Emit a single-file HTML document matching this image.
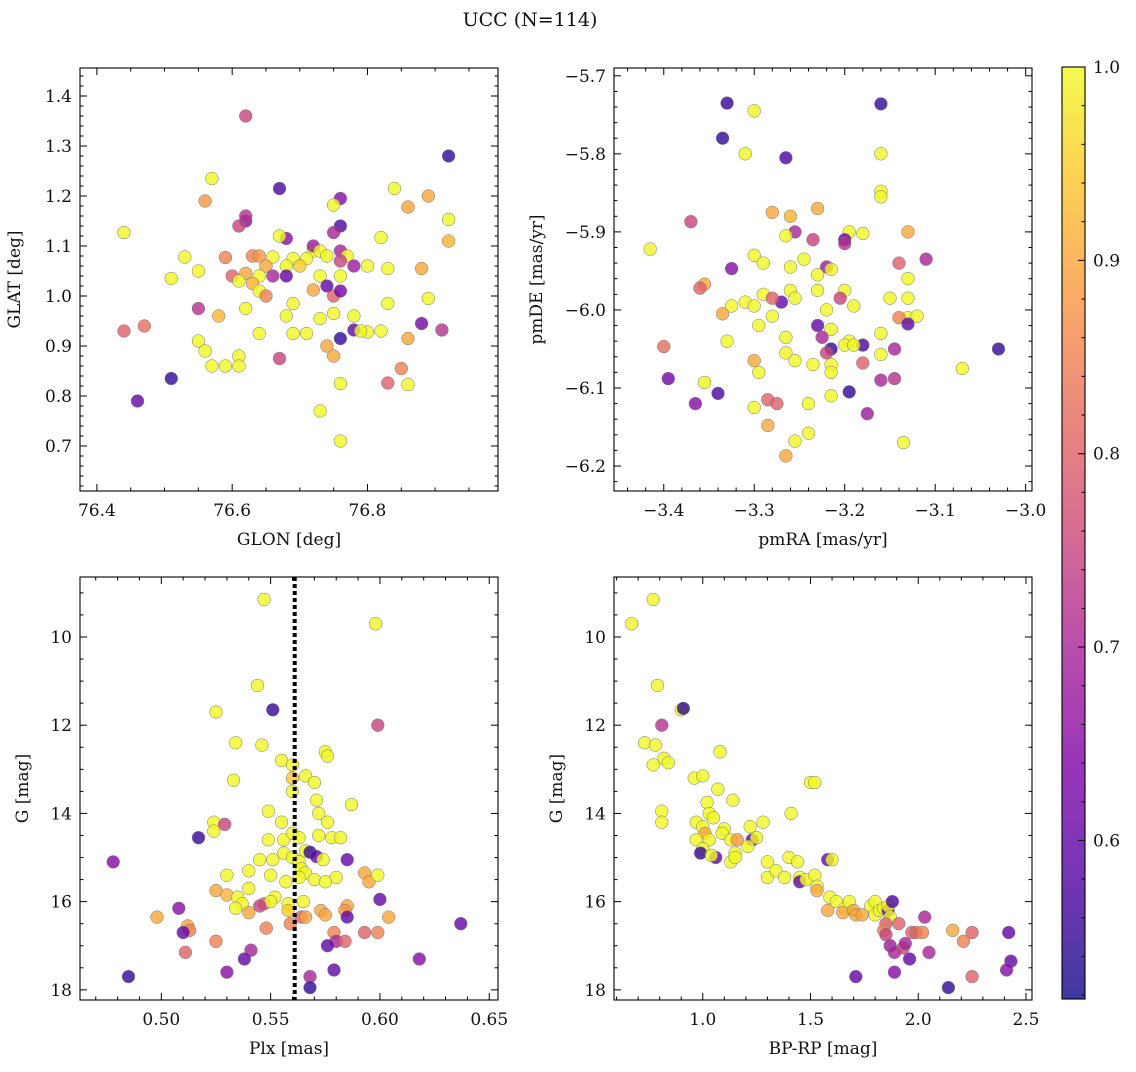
<!DOCTYPE html>
<html><head><meta charset="utf-8">
<style>
html,body{margin:0;padding:0;background:#fff;}
svg text{font-family:"DejaVu Serif","Liberation Serif",serif;fill:#111;}
</style></head>
<body>
<svg id="fig" width="1136" height="1067" viewBox="0 0 1136 1067" xmlns="http://www.w3.org/2000/svg">
<text x="530" y="26" font-size="19" text-anchor="middle">UCC (N=114)</text>
</svg>
<script>
// ---- data ----
const p1GLON=[76.62,76.92,76.67,76.57,76.44,76.56,76.84,76.89,76.86,76.92,76.92,76.76,76.75,76.62,76.62,76.61,76.68,76.67,76.76,76.75,76.82,76.59,76.53,76.63,76.64,76.66,76.72,76.72,76.73,76.74,76.76,76.77,76.71,76.69,76.68,76.70,76.65,76.62,76.64,76.66,76.68,76.60,76.61,76.55,76.51,76.63,76.64,76.65,76.73,76.76,76.76,76.78,76.80,76.83,76.88,76.72,76.75,76.76,76.74,76.69,76.68,76.73,76.75,76.78,76.83,76.89,76.55,76.58,76.62,76.64,76.69,76.71,76.76,76.78,76.80,76.79,76.82,76.86,76.88,76.91,76.44,76.47,76.55,76.56,76.57,76.59,76.61,76.61,76.67,76.74,76.75,76.76,76.83,76.85,76.86,76.51,76.46,76.73,76.76];
const p1GLAT=[1.36,1.28,1.215,1.235,1.127,1.19,1.215,1.20,1.178,1.153,1.11,1.195,1.182,1.15,1.16,1.14,1.115,1.12,1.14,1.127,1.117,1.077,1.078,1.08,1.08,1.078,1.09,1.1,1.09,1.08,1.09,1.08,1.075,1.075,1.06,1.06,1.06,1.045,1.04,1.04,1.04,1.04,1.03,1.05,1.035,1.025,1.01,1.00,1.04,1.04,1.07,1.06,1.06,1.055,1.055,1.012,1.00,1.01,1.02,0.985,0.96,0.955,0.965,0.96,0.985,0.995,0.975,0.96,0.975,0.925,0.925,0.925,0.915,0.932,0.928,0.93,0.93,0.915,0.945,0.932,0.93,0.94,0.91,0.89,0.86,0.86,0.88,0.86,0.875,0.90,0.88,0.825,0.826,0.855,0.823,0.835,0.79,0.77,0.71];
const p1C=[0.75,0.55,0.57,1,1,0.88,1,0.9,0.9,1,0.92,0.65,1,0.65,0.72,0.75,0.65,1,0.57,0.7,1,0.85,1,0.85,0.88,1,1,0.68,1,1,0.7,1,1,1,1,0.95,0.9,0.9,1,0.7,0.6,0.8,1,1,1,0.92,1,0.85,1,1,0.75,0.68,1,1,0.9,0.9,0.8,0.62,0.6,1,1,1,1,1,1,1,0.72,0.92,1,1,1,1,0.55,0.6,1,1,1,0.9,0.62,0.72,0.8,0.82,1,1,1,1,1,1,0.75,0.9,0.9,1,0.8,0.85,1,0.55,0.6,1,1];

const p2RA=[-3.33,-3.16,-3.30,-3.335,-3.31,-3.265,-3.16,-3.16,-3.16,-3.37,-3.28,-3.23,-3.26,-3.13,-3.415,-3.255,-3.265,-3.235,-3.195,-3.18,-3.20,-3.20,-3.30,-3.29,-3.11,-3.325,-3.26,-3.245,-3.22,-3.215,-3.23,-3.14,-3.13,-3.355,-3.36,-3.29,-3.26,-3.27,-3.255,-3.23,-3.20,-3.205,-3.19,-3.31,-3.30,-3.28,-3.325,-3.335,-3.15,-3.13,-3.13,-3.14,-3.12,-3.28,-3.22,-3.295,-3.23,-3.215,-3.13,-3.16,-3.33,-3.265,-3.225,-3.195,-3.18,-3.20,-3.215,-3.22,-3.19,-3.40,-3.30,-3.265,-3.255,-3.235,-3.215,-3.18,-3.145,-3.16,-3.03,-3.07,-3.295,-3.215,-3.395,-3.145,-3.16,-3.355,-3.34,-3.195,-3.215,-3.365,-3.24,-3.30,-3.285,-3.275,-3.175,-3.285,-3.24,-3.255,-3.135,-3.265];
const p2DE=[-5.735,-5.736,-5.745,-5.78,-5.80,-5.805,-5.80,-5.848,-5.855,-5.887,-5.875,-5.87,-5.88,-5.90,-5.922,-5.90,-5.905,-5.91,-5.90,-5.902,-5.91,-5.915,-5.93,-5.94,-5.935,-5.947,-5.945,-5.935,-5.945,-5.948,-5.955,-5.94,-5.96,-5.967,-5.972,-5.98,-5.975,-5.99,-5.985,-5.975,-5.975,-5.985,-5.995,-5.99,-5.995,-5.985,-5.995,-6.005,-5.985,-5.985,-6.01,-6.01,-6.008,-6.008,-6.00,-6.02,-6.02,-6.025,-6.018,-6.03,-6.04,-6.035,-6.035,-6.04,-6.045,-6.045,-6.05,-6.055,-6.045,-6.047,-6.065,-6.055,-6.065,-6.07,-6.07,-6.068,-6.05,-6.057,-6.05,-6.075,-6.08,-6.08,-6.088,-6.088,-6.09,-6.093,-6.107,-6.105,-6.11,-6.12,-6.12,-6.125,-6.115,-6.12,-6.133,-6.148,-6.158,-6.168,-6.17,-6.187];
const p2C=[0.55,0.55,1,0.55,1,0.57,1,1,1,0.75,0.9,0.9,0.92,0.9,1,0.7,1,0.75,1,1,0.6,0.72,1,1,0.7,0.65,1,1,0.68,1,1,0.8,1,0.9,0.8,1,1,0.6,1,1,1,0.75,1,1,1,0.8,1,0.9,1,1,1,0.85,1,1,1,1,0.6,1,0.6,1,1,1,0.7,1,0.57,1,0.55,0.75,1,0.82,0.9,1,1,1,1,0.8,0.7,1,0.55,1,1,1,0.62,0.72,0.7,1,0.57,0.55,1,0.65,1,1,0.8,0.8,0.68,0.9,1,1,1,0.9];

const p3PLX=[0.547,0.598,0.544,0.525,0.551,0.599,0.534,0.546,0.575,0.576,0.555,0.560,0.566,0.560,0.570,0.533,0.560,0.587,0.571,0.549,0.572,0.524,0.529,0.555,0.576,0.517,0.524,0.549,0.556,0.560,0.563,0.572,0.578,0.582,0.566,0.568,0.571,0.556,0.560,0.563,0.545,0.551,0.574,0.585,0.564,0.540,0.530,0.550,0.566,0.563,0.557,0.570,0.580,0.575,0.593,0.595,0.599,0.600,0.540,0.525,0.530,0.535,0.537,0.534,0.552,0.547,0.550,0.558,0.565,0.545,0.540,0.558,0.573,0.575,0.585,0.584,0.564,0.566,0.498,0.508,0.478,0.512,0.513,0.510,0.548,0.559,0.585,0.604,0.593,0.599,0.579,0.580,0.576,0.584,0.525,0.511,0.541,0.538,0.530,0.579,0.568,0.618,0.637,0.485,0.568];
const p3G=[9.15,9.7,11.1,11.7,11.65,12.0,12.4,12.45,12.6,12.7,12.8,12.9,13.15,13.2,13.3,13.25,13.5,13.8,13.7,13.95,14.0,14.2,14.25,14.2,14.2,14.55,14.4,14.6,14.6,14.45,14.55,14.5,14.55,14.55,14.85,14.88,14.98,14.9,15.0,15.1,15.05,15.05,15.05,15.05,15.25,15.3,15.4,15.4,15.35,15.45,15.55,15.5,15.45,15.55,15.35,15.55,15.4,15.95,15.7,15.75,15.85,15.9,16.05,16.15,15.9,16.05,16.0,16.05,16.0,16.1,16.25,16.2,16.2,16.3,16.1,16.2,16.35,16.35,16.35,16.15,15.1,16.55,16.65,16.7,16.6,16.5,16.35,16.35,16.7,16.7,16.7,16.9,17.0,16.9,16.9,17.15,17.1,17.3,17.6,17.55,17.7,17.3,16.5,17.7,17.95];
const p3C=[1,1,1,1,0.55,0.75,1,1,1,1,1,1,1,0.95,1,1,1,1,1,1,1,1,0.75,1,1,0.55,1,1,1,1,1,1,1,1,1,0.55,0.6,1,1,1,1,1,1,0.6,1,1,1,1,1,1,1,1,1,1,0.9,0.9,1,0.6,1,0.9,0.92,1,1,1,1,0.8,1,1,1,0.75,0.9,0.95,0.9,0.9,0.9,0.88,0.8,0.9,0.9,0.65,0.65,0.9,0.85,0.6,0.85,0.85,0.6,0.9,0.8,0.85,0.85,0.7,0.6,0.8,0.85,0.8,0.7,0.6,0.65,0.6,0.7,0.65,0.6,0.55,0.55];
const p3PlxMedian=0.561;

const p4BPRP=[0.67,0.77,0.79,0.90,0.91,0.81,0.73,0.78,0.82,0.84,0.77,1.08,0.96,1.00,0.81,0.81,1.02,1.07,1.14,1.03,0.97,1.00,1.05,1.10,1.01,0.97,1.03,1.09,1.13,1.16,1.23,1.25,1.28,1.41,1.50,1.52,1.00,0.99,1.06,1.04,1.15,1.13,1.15,1.22,1.21,1.30,1.30,1.34,1.38,1.40,1.44,1.45,1.45,1.48,1.52,1.53,1.53,1.58,1.60,1.59,1.58,1.62,1.66,1.65,1.68,1.70,1.71,1.74,1.78,1.80,1.80,1.82,1.84,1.86,1.86,1.88,1.87,1.85,1.84,1.85,1.87,1.89,1.91,1.93,1.94,1.96,1.97,1.99,2.03,2.05,2.02,2.16,2.21,2.25,2.25,2.42,2.43,2.41,2.14,1.89,1.71];
const p4G=[9.7,9.15,11.1,11.65,11.62,12.0,12.4,12.45,12.75,12.85,12.9,12.6,13.2,13.15,13.95,14.2,13.75,13.45,13.7,14.0,14.2,14.3,14.1,14.35,14.45,14.6,14.6,14.45,14.6,14.6,14.6,14.55,14.2,14.0,13.3,13.3,14.8,14.9,15.0,14.95,14.9,15.1,15.0,14.3,14.75,15.1,15.45,15.3,15.45,15.0,15.1,15.45,15.55,15.5,15.4,15.65,15.75,15.05,15.05,15.9,16.2,16.0,16.15,16.25,16.0,16.2,16.3,16.3,16.1,16.0,16.3,16.2,16.15,16.2,16.1,16.0,16.35,16.5,16.65,16.75,17.0,17.15,16.5,17.05,16.95,17.3,16.7,16.7,16.35,17.15,16.7,16.65,16.9,16.7,17.7,16.7,17.35,17.55,17.95,17.6,17.7];
const p4C=[1,1,1,1,0.55,0.72,1,1,1,1,1,1,1,1,1,1,1,1,1,1,1,1,1,1,0.9,1,1,1,1,0.88,0.6,1,1,1,1,1,1,0.55,0.6,1,1,1,1,1,1,1,1,1,1,1,1,1,0.6,1,1,1,0.9,0.6,1,1,0.9,1,1,0.9,1,0.9,0.9,0.9,1,1,1,1,1,0.6,1,0.57,1,0.8,0.85,0.75,0.68,0.7,0.8,0.75,0.7,0.6,0.8,0.8,0.7,0.7,0.85,0.9,0.85,0.8,0.8,0.6,0.6,0.65,0.55,0.65,0.6];

const cbTicks=[0.6,0.7,0.8,0.9,1.0];
const VMIN=0.518, VMAX=1.0;

// ---- helpers ----
const NS="http://www.w3.org/2000/svg";
const svg=document.getElementById('fig');
function mk(tag,attrs,parent){const e=document.createElementNS(NS,tag);for(const k in attrs)e.setAttribute(k,attrs[k]);(parent||svg).appendChild(e);return e;}
const stops=[[0,[13,8,135]],[0.13,[84,2,163]],[0.25,[126,3,168]],[0.38,[168,34,150]],[0.5,[204,71,120]],[0.63,[230,108,92]],[0.75,[248,149,64]],[0.88,[253,196,39]],[1,[240,249,33]]];
function plasma(t){t=Math.max(0,Math.min(1,t));for(let i=1;i<stops.length;i++){if(t<=stops[i][0]){const a=stops[i-1],b=stops[i];const f=(t-a[0])/(b[0]-a[0]);return 'rgb('+[0,1,2].map(k=>Math.round(a[1][k]+f*(b[1][k]-a[1][k]))).join(',')+')';}}return 'rgb(240,249,33)';}
function cnorm(v){return (v-VMIN)/(VMAX-VMIN);}
function fmt(v,d){const s=Math.abs(v).toFixed(d);return (v<-1e-9?'\u2212':'')+s;}

function panel(o){
  const g=mk('g',{});
  
  
  const sx=v=>o.x0+(v-o.xd[0])/(o.xd[1]-o.xd[0])*(o.x1-o.x0);
  const sy=v=>o.inv? o.y0+(v-o.yd[0])/(o.yd[1]-o.yd[0])*(o.y1-o.y0) : o.y1-(v-o.yd[0])/(o.yd[1]-o.yd[0])*(o.y1-o.y0);
  const pg=mk('g',{},g);
  
  
  o.X.forEach((xv,i)=>{
    const c=mk('circle',{cx:sx(xv).toFixed(1),cy:sy(o.Y[i]).toFixed(1),r:6.4,fill:plasma(cnorm(o.C[i])),'fill-opacity':0.8,stroke:'#777','stroke-width':0.5},pg);
    
    
  });
  if(o.vline!==undefined){
    const l=mk('line',{x1:sx(o.vline),x2:sx(o.vline),y1:o.y0,y2:o.y1,stroke:'#000','stroke-width':4,'stroke-dasharray':'4,3'},g);
    
    
  }
  const fr=mk('rect',{x:o.x0,y:o.y0,width:o.x1-o.x0,height:o.y1-o.y0,fill:'none',stroke:'#000','stroke-width':1.1},g);
  
  
  const eps=1e-9;
  for(let v=Math.ceil(o.xd[0]/o.xmin-eps)*o.xmin; v<=o.xd[1]+eps; v+=o.xmin){
    const major=Math.abs(v/o.xmaj-Math.round(v/o.xmaj))<1e-6;
    const L=major?7:3.5, X=sx(v);
    mk('line',{x1:X,x2:X,y1:o.y1,y2:o.y1-L,stroke:'#000','stroke-width':1},g);
    mk('line',{x1:X,x2:X,y1:o.y0,y2:o.y0+L,stroke:'#000','stroke-width':1},g);
    if(major){const t=mk('text',{x:X,y:o.y1+25,'font-size':17,'text-anchor':'middle'},g);t.textContent=fmt(v,o.xdec);
      
      }
  }
  for(let v=Math.ceil(o.yd[0]/o.ymin-eps)*o.ymin; v<=o.yd[1]+eps; v+=o.ymin){
    const major=Math.abs(v/o.ymaj-Math.round(v/o.ymaj))<1e-6;
    const L=major?7:3.5, Y=sy(v);
    mk('line',{x1:o.x0,x2:o.x0+L,y1:Y,y2:Y,stroke:'#000','stroke-width':1},g);
    mk('line',{x1:o.x1,x2:o.x1-L,y1:Y,y2:Y,stroke:'#000','stroke-width':1},g);
    if(major){const t=mk('text',{x:o.x0-8,y:Y+6,'font-size':17,'text-anchor':'end'},g);t.textContent=fmt(v,o.ydec);
      
      }
  }
  const xl=mk('text',{x:(o.x0+o.x1)/2,y:o.y1+54,'font-size':17,'text-anchor':'middle'},g);xl.textContent=o.xlab;
  
  
  const yx=o.x0-o.ylabOff, yy=(o.y0+o.y1)/2;
  const yl=mk('text',{x:yx,y:yy,'font-size':17,'text-anchor':'middle',transform:'rotate(-90 '+yx+' '+yy+')'},g);yl.textContent=o.ylab;
  
  
}

panel({name:'glon-glat-panel',x0:80,x1:498,y0:68,y1:491,xd:[76.375,76.993],yd:[0.61,1.456],xmaj:0.2,xmin:0.05,ymaj:0.1,ymin:0.02,xdec:1,ydec:1,X:p1GLON,Y:p1GLAT,C:p1C,xlab:'GLON [deg]',ylab:'GLAT [deg]',ylabOff:60});
panel({name:'pmra-pmde-panel',x0:614,x1:1032,y0:68,y1:491,xd:[-3.455,-2.993],yd:[-6.232,-5.69],xmaj:0.1,xmin:0.02,ymaj:0.1,ymin:0.02,xdec:1,ydec:1,X:p2RA,Y:p2DE,C:p2C,xlab:'pmRA [mas/yr]',ylab:'pmDE [mas/yr]',ylabOff:72});
panel({name:'plx-g-panel',x0:80,x1:498,y0:577,y1:1000,xd:[0.4628,0.654],yd:[8.64,18.23],inv:true,xmaj:0.05,xmin:0.01,ymaj:2,ymin:0.5,xdec:2,ydec:0,X:p3PLX,Y:p3G,C:p3C,xlab:'Plx [mas]',ylab:'G [mag]',ylabOff:52,vline:p3PlxMedian});
panel({name:'cmd-panel',x0:614,x1:1032,y0:577,y1:1000,xd:[0.588,2.528],yd:[8.64,18.23],inv:true,xmaj:0.5,xmin:0.1,ymaj:2,ymin:0.5,xdec:1,ydec:0,X:p4BPRP,Y:p4G,C:p4C,xlab:'BP-RP [mag]',ylab:'G [mag]',ylabOff:52});

(function(){
  const cx0=1062,cx1=1085,cy0=67,cy1=999;
  const cg=mk('g',{});
  
  
  const defs=mk('defs',{},cg);
  const lg=mk('linearGradient',{id:'cbg',x1:0,y1:1,x2:0,y2:0},defs);
  for(let i=0;i<=20;i++){const t=i/20;mk('stop',{offset:t,'stop-color':plasma(t),'stop-opacity':0.8},lg);}
  mk('rect',{x:cx0,y:cy0,width:cx1-cx0,height:cy1-cy0,fill:'url(#cbg)',stroke:'#000','stroke-width':1.1},cg);
  const sy=v=>cy1-(v-VMIN)/(VMAX-VMIN)*(cy1-cy0);
  for(let v=0.52;v<=1.0001;v+=0.02){
    const major=Math.abs(v*10-Math.round(v*10))<1e-6;const Y=sy(v),L=major?7:3.5;
    mk('line',{x1:cx1,x2:cx1-L,y1:Y,y2:Y,stroke:'#000','stroke-width':1},cg);
  }
  cbTicks.forEach(v=>{const t=mk('text',{x:cx1+8,y:sy(v)+6,'font-size':17},cg);t.textContent=v.toFixed(1);
    
    });
})();
</script>
</body></html>
